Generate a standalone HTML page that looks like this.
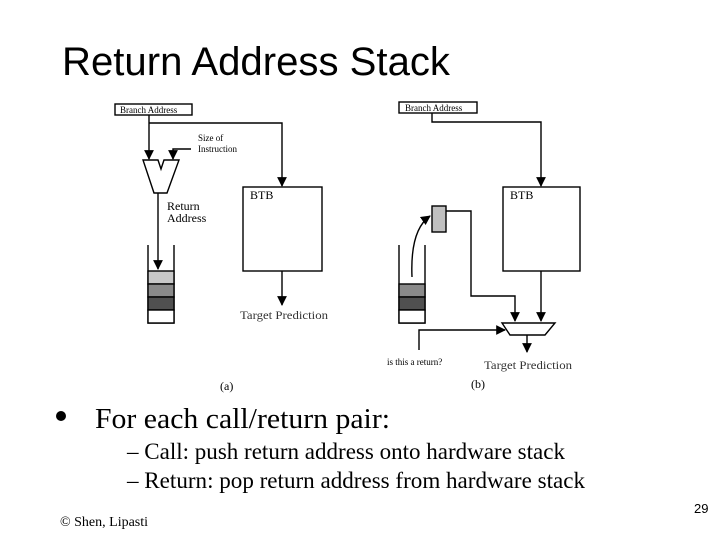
<!DOCTYPE html>
<html><head><meta charset="utf-8"><style>
html,body{margin:0;padding:0;background:#fff;}
svg{display:block}
</style></head><body>
<svg width="720" height="540" viewBox="0 0 720 540" xmlns="http://www.w3.org/2000/svg">
<defs>
<marker id="ah" viewBox="0 0 10 10" refX="9" refY="5" markerWidth="7" markerHeight="7" orient="auto"><path d="M0,0 L10,5 L0,10 z" fill="#000"/></marker>
</defs>
<text x="62" y="75" font-family="Liberation Sans, sans-serif" font-size="40" textLength="388" lengthAdjust="spacingAndGlyphs" fill="#000">Return Address Stack</text>

<g stroke="#000" fill="none" stroke-width="1.4">
<!-- (a) -->
<rect x="115" y="104" width="77" height="11" fill="#fff"/>
<polyline points="149,115 149,159" marker-end="url(#ah)"/>
<polyline points="149,123 282,123 282,186" marker-end="url(#ah)"/>
<polyline points="191,149 173,149 173,159" marker-end="url(#ah)"/>
<polygon points="143,160 158,160 161,169 164,160 179,160 167,193 154,193" fill="#fff"/>
<polyline points="158,193 158,269" marker-end="url(#ah)"/>
<polyline points="148,245 148,323 174,323 174,245"/>
<rect x="148" y="271" width="26" height="13" fill="#c8c8c8"/>
<rect x="148" y="284" width="26" height="13" fill="#8a8a8a"/>
<rect x="148" y="297" width="26" height="13" fill="#505050"/>
<rect x="148" y="310" width="26" height="13" fill="#fff"/>
<rect x="243" y="187" width="79" height="84" fill="#fff"/>
<polyline points="282,271 282,305" marker-end="url(#ah)"/>
<!-- (b) -->
<rect x="399" y="102" width="78" height="11" fill="#fff"/>
<polyline points="432,113 432,122 541,122 541,186" marker-end="url(#ah)"/>
<rect x="503" y="187" width="77" height="84" fill="#fff"/>
<rect x="432" y="206" width="14" height="26" fill="#c0c0c0"/>
<polyline points="446,211 471,211 471,296 515,296 515,321" marker-end="url(#ah)"/>
<polyline points="541,271 541,321" marker-end="url(#ah)"/>
<polygon points="502,323 555,323 545,335 510,335" fill="#fff"/>
<polyline points="527,335 527,352" marker-end="url(#ah)"/>
<polyline points="419,350 419,330 505,330" marker-end="url(#ah)"/>
<polyline points="399,245 399,323 425,323 425,245"/>
<rect x="399" y="284" width="26" height="13" fill="#8a8a8a"/>
<rect x="399" y="297" width="26" height="13" fill="#505050"/>
<rect x="399" y="310" width="26" height="13" fill="#fff"/>
<path d="M412,277 Q410,230 430,216" marker-end="url(#ah)"/>
</g>
<g font-family="Liberation Serif, serif" fill="#000">
<text x="120" y="113" font-size="9">Branch Address</text>
<text x="198" y="141" font-size="9">Size of</text>
<text x="198" y="152" font-size="9">Instruction</text>
<text x="167" y="210" font-size="12">Return</text>
<text x="167" y="222" font-size="12">Address</text>
<text x="250" y="199" font-size="12">BTB</text>
<text x="240" y="319" font-size="12" fill="#333" textLength="88" lengthAdjust="spacingAndGlyphs">Target Prediction</text>
<text x="220" y="390" font-size="12">(a)</text>
<text x="405" y="111" font-size="9">Branch Address</text>
<text x="510" y="199" font-size="12">BTB</text>
<text x="387" y="365" font-size="9">is this a return?</text>
<text x="484" y="369" font-size="12" fill="#333" textLength="88" lengthAdjust="spacingAndGlyphs">Target Prediction</text>
<text x="471" y="388" font-size="12">(b)</text>
<text x="95" y="428" font-size="28" textLength="295" lengthAdjust="spacingAndGlyphs">For each call/return pair:</text>
<text x="127" y="459" font-size="23" textLength="438" lengthAdjust="spacingAndGlyphs">– Call: push return address onto hardware stack</text>
<text x="127" y="488" font-size="23" textLength="458" lengthAdjust="spacingAndGlyphs">– Return: pop return address from hardware stack</text>
<text x="60" y="526" font-size="14">© Shen, Lipasti</text>
</g>
<circle cx="61" cy="416" r="5" fill="#000"/>
<text x="694" y="513" font-family="Liberation Sans, sans-serif" font-size="13">29</text>
</svg>
</body></html>
